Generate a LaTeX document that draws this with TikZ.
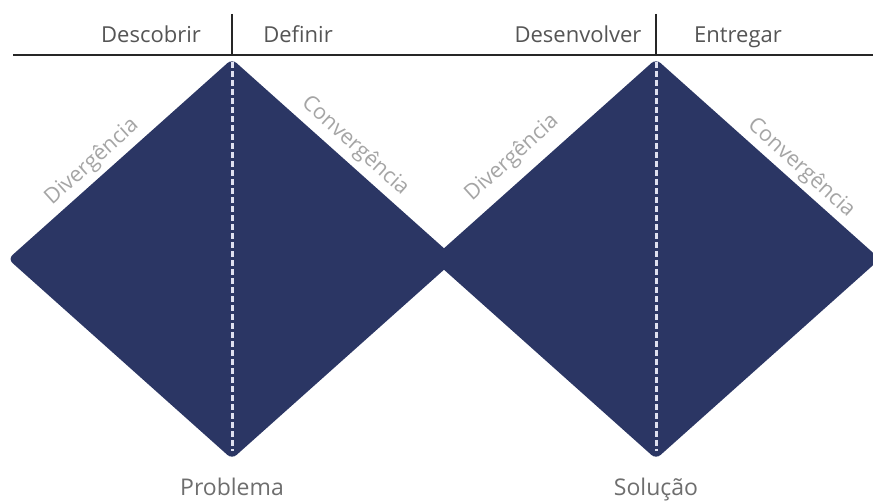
\documentclass[tikz,border=0pt]{standalone}
\usepackage{fontspec}
\setmainfont{Open Sans}
\usepackage{xcolor}
\usepackage{tikz}
\usetikzlibrary{positioning}

\definecolor{diamondblue}{RGB}{43,54,100}
\definecolor{phasegray}{RGB}{85,85,85}
\definecolor{sidegray}{RGB}{165,165,165}
\definecolor{dashwhite}{RGB}{222,224,240}

\begin{document}
\begin{tikzpicture}[x=1pt, y=-1pt,
  phase/.style={font=\fontsize{22}{26}\selectfont, text=phasegray, anchor=base, inner sep=0pt},
  side/.style={font=\fontsize{21.5}{24}\selectfont, text=sidegray, inner sep=0pt},
  result/.style={font=\fontsize{23}{27}\selectfont, text=phasegray!85, anchor=base, inner sep=0pt},
  diamond/.style={fill=diamondblue, rounded corners=6pt},
  midline/.style={draw=dashwhite, line width=3pt, dash pattern=on 6pt off 3pt}]
  \useasboundingbox[fill=white] (0,0) rectangle (873,503);

  % Diamond corners
  \coordinate (lt) at (232,59);  \coordinate (ll) at (8,259);
  \coordinate (lb) at (232,459); \coordinate (lr) at (456,259);
  \coordinate (rt) at (656,59);  \coordinate (rl) at (432,259);
  \coordinate (rb) at (656,459); \coordinate (rr) at (880,259);

  % The two diamonds
  \fill[diamond] (ll) -- (lt) -- (lr) -- (lb) -- cycle;
  \fill[diamond] (rl) -- (rt) -- (rr) -- (rb) -- cycle;

  % Dashed middle lines (y runs downwards, so shifts are flipped)
  \draw[midline] ([yshift=-3pt]lt) -- ([yshift=8pt]lb);
  \draw[midline] ([yshift=-3pt]rt) -- ([yshift=8pt]rb);

  % Timeline with ticks
  \coordinate (lineA) at (13,55);
  \coordinate (lineB) at (873,55);
  \coordinate (tickL) at (232,14);
  \coordinate (tickR) at (656,14);
  \draw[line width=1.8pt, black!85] (lineA) -- (lineB);
  \draw[line width=1.8pt, black!85] (tickL) -- (tickL |- lineA);
  \draw[line width=1.8pt, black!85] (tickR) -- (tickR |- lineA);

  % Phase labels
  \node[phase] (descobrir) at (151,43) {Descobrir};
  \node[phase] (definir) at (298,43) {Definir};
  \node[phase] (desenvolver) at (578,43) {Desenvolver};
  \node[phase] (entregar) at (738,43) {Entregar};

  % Side labels along the edges
  \node[side, rotate=42] (divL) at (92,162) {Divergência};
  \node[side, rotate=-42] (conL) at (355,146) {Convergência};
  \node[side, rotate=42] (divR) at (512,158) {Divergência};
  \node[side, rotate=-42] (conR) at (801,168) {Convergência};

  % Results below
  \node[result] (problema) at (232,495) {Problema};
  \node[result] (solucao) at (656,495) {Solução};
\end{tikzpicture}
\end{document}
